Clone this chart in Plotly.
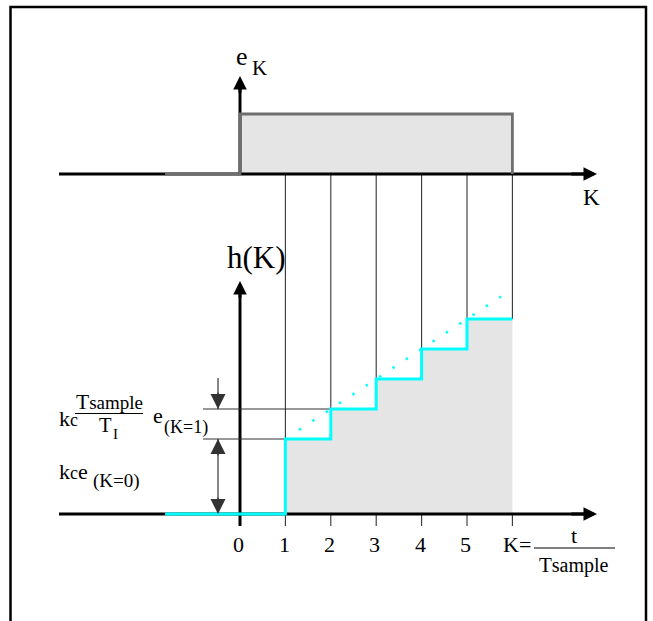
import plotly.graph_objects as go

# ---- data -------------------------------------------------------------
k_ticks = [0, 1, 2, 3, 4, 5]
tick_labels = ["0", "1", "2", "3", "4", "5"]

# sampled error signal e_K: zero before K=0, unit step afterwards
e_k = [-1.65, 0, 0, 6, 6]
e_val = [0, 0, 1, 1, 0]

# integral-action output h(K): staircase levels starting at each sample
h_k = [-1.65, 1, 2, 3, 4, 5, 6]
h_val = [0.0, 2.5, 3.5, 4.5, 5.5, 6.5, 6.5]

# straight-line trend through the step corners
trend_k = [1.3, 5.75]
trend_h = [2.8, 7.25]

# sample instants that are tied between the two plots
sample_k = [1, 2, 3, 4, 5, 6]
sample_h = [2.5, 3.5, 4.5, 5.5, 6.5, 6.5]

kc_e0 = 2.5        # k_c e(K=0)
kc_inc = 1.0       # k_c Ts/TI e(K=1)

# ---- page geometry ------------------------------------------------------
W, H = 653, 621
K0_PX, K_PX = 240, 45.4      # pixel of K=0, pixels per sample
H0_PX, H_PX = 514, 30        # pixel of h=0, pixels per unit of h
E0_PX, E_PX = 174, 60        # pixel of e=0, pixels per unit of e

FONT = "Liberation Serif"
CYAN = "#00FFFF"
FILL = "#E5E5E5"
GREY = "#6E6E6E"
DARK = "#333333"


def k_of_px(px):
    return (px - K0_PX) / K_PX


def h_of_py(py):
    return (H0_PX - py) / H_PX


def e_to_h(e):
    return h_of_py(E0_PX - e * E_PX)


fig = go.Figure()


def line(x, y, color, width, yaxis="y", dash=None, shape="linear", fill=None, fillcolor=None):
    fig.add_trace(go.Scatter(
        x=x, y=y, mode="lines", yaxis=yaxis, hoverinfo="skip",
        line=dict(color=color, width=width, dash=dash, shape=shape),
        fill=fill, fillcolor=fillcolor,
    ))


# shaded areas
line([0, 6], [1, 1], "rgba(0,0,0,0)", 0, yaxis="y2", fill="tozeroy", fillcolor=FILL)
line(sample_k, sample_h, "rgba(0,0,0,0)", 0, shape="hv", fill="tozeroy", fillcolor=FILL)

# vertical guides from the e_K samples down to the staircase
top_h = e_to_h(1)
for k, hv in zip(sample_k, sample_h):
    line([k, k], [top_h, hv], DARK, 1.1)

# small ticks below the lower axis
tick_low = h_of_py(526)
for k in sample_k:
    line([k, k], [0, tick_low], DARK, 1.1)

# axes lines
k_left, k_tip = k_of_px(59), k_of_px(597)
line([k_left, k_tip - 0.2], [0, 0], "black", 3, yaxis="y2")
line([k_left, k_tip - 0.2], [0, 0], "black", 3)
line([0, 0], [0, (E0_PX - 78) / E_PX - 0.1], "black", 3, yaxis="y2")
line([0, 0], [h_of_py(526), h_of_py(283) - 0.3], "black", 3)

# dimension guides on the left
k_dim0 = k_of_px(203)
k_arrow = k_of_px(218)
line([k_dim0, 1], [kc_e0, kc_e0], DARK, 1.2)
line([k_dim0, 2], [kc_e0 + kc_inc, kc_e0 + kc_inc], DARK, 1.2)
line([k_arrow, k_arrow], [h_of_py(378), kc_e0 + kc_inc], DARK, 1.2)
line([k_arrow, k_arrow], [0, kc_e0], DARK, 1.2)

# signals
line(e_k, e_val, GREY, 2.8, yaxis="y2")
line(trend_k, trend_h, CYAN, 2.5, dash="2.5px,13.5px")
line(h_k, h_val, CYAN, 3, shape="hv")

annotations = []


def arrow(x, y, ax, ay, width, size, color="black", yref="y"):
    annotations.append(dict(
        x=x, y=y, ax=ax, ay=ay, xref="x", yref=yref, axref="x", ayref=yref,
        showarrow=True, arrowhead=2, arrowwidth=width, arrowsize=size,
        arrowcolor=color, text="", standoff=0,
    ))


# axis arrowheads
arrow(k_tip, 0, k_tip - 0.6, 0, 3, 0.9, yref="y2")
arrow(k_tip, 0, k_tip - 0.6, 0, 3, 0.9)
arrow(0, (E0_PX - 76) / E_PX, 0, (E0_PX - 76) / E_PX - 0.3, 3, 0.9, yref="y2")
arrow(0, h_of_py(281), 0, h_of_py(281) - 0.6, 3, 0.9)

# dimension arrowheads
arrow(k_arrow, kc_e0 + kc_inc, k_arrow, kc_e0 + kc_inc + 0.6, 1.2, 2.5, DARK)
arrow(k_arrow, kc_e0, k_arrow, kc_e0 - 0.6, 1.2, 2.5, DARK)
arrow(k_arrow, 0, k_arrow, 0.6, 1.2, 2.5, DARK)


def text(s, x, base, size, anchor="left", xref="paper"):
    annotations.append(dict(
        text=s, x=x if xref != "paper" else x / W, xref=xref,
        y=1 - (base - 0.34 * size) / H, yref="paper",
        xanchor=anchor, yanchor="middle", showarrow=False, borderpad=0,
        font=dict(family=FONT, size=size, color="black"),
    ))


def sized(s, size):
    return f"<span style='font-size:{size}px'>{s}</span>"


# axis titles
text("e", 235, 65, 26)
text("K", 251, 75, 21)
text("K", 582, 205, 23)
text("h(K)", 226, 268, 31)

# tick labels
for k, lab in zip(k_ticks, tick_labels):
    text(lab, k - 0.03, 552, 22, anchor="center", xref="x")

# K = t / T_sample
text("K=", 502, 552, 22)
text("t", 574, 543, 22, anchor="center")
text("T" + sized("sample", 20), 538, 572, 21)

# k_c Ts/TI e(K=1)
text("k" + sized("c", 18), 58, 426, 22)
text("T" + sized("sample", 19), 109, 409, 21.5, anchor="center")
text("T", 98, 431.5, 20.5)
text("I", 112, 439, 15)
text("e", 152, 423, 22)
text("(K=1)", 163, 434, 18)

# k_c e(K=0)
text("k" + sized("c", 18) + "e", 58, 479, 22)
text("(K=0)", 92, 487, 19)

shapes = [
    # outer frame
    dict(type="rect", xref="paper", yref="paper", x0=10.5 / W, x1=646 / W,
         y0=-0.2, y1=1 - 7 / H, line=dict(color="black", width=2.5)),
    # fraction bars
    dict(type="line", xref="paper", yref="paper", x0=75 / W, x1=143 / W,
         y0=1 - 413.5 / H, y1=1 - 413.5 / H, line=dict(color="black", width=1.2)),
    dict(type="line", xref="paper", yref="paper", x0=534 / W, x1=615 / W,
         y0=1 - 548 / H, y1=1 - 548 / H, line=dict(color="black", width=1.2)),
]

fig.update_layout(
    width=W, height=H, margin=dict(l=0, r=0, t=0, b=0),
    paper_bgcolor="white", plot_bgcolor="white", showlegend=False,
    xaxis=dict(range=[k_of_px(0), k_of_px(W)], visible=False, fixedrange=True),
    yaxis=dict(range=[h_of_py(H), h_of_py(0)], visible=False, fixedrange=True),
    yaxis2=dict(range=[(E0_PX - H) / E_PX, E0_PX / E_PX], visible=False,
                overlaying="y", fixedrange=True),
    annotations=annotations, shapes=shapes,
)

fig.write_html("out.html")
